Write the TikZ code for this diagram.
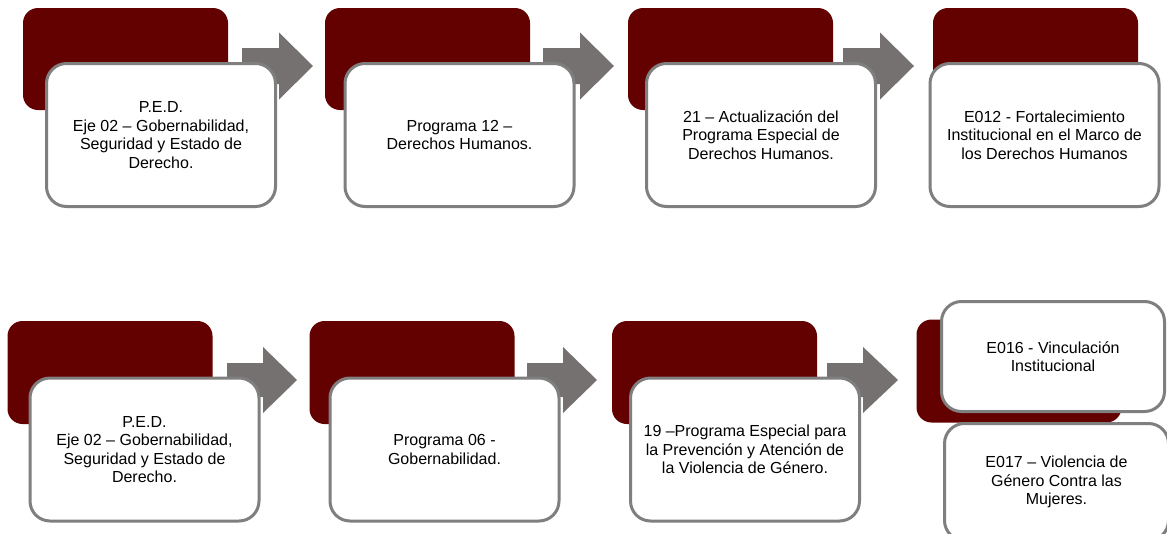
\documentclass[tikz,border=0pt]{standalone}
\usepackage{fontspec}
\setmainfont{Liberation Sans}
\definecolor{darkred}{RGB}{99,0,0}
\definecolor{arrowgray}{RGB}{118,113,113}
\definecolor{bordergray}{RGB}{127,127,127}
\tikzset{
  backbox/.style={fill=darkred, draw=none, rounded corners=15pt, minimum width=205pt, minimum height=102pt, inner sep=0pt},
  frontbox/.style={fill=white, draw=bordergray, line width=3pt, rounded corners=20pt, minimum width=229pt, minimum height=143pt, inner sep=0pt, align=center, font=\fontsize{16}{18.5}\selectfont},
  blockarrow/.style={fill=arrowgray, draw=none}
}
\begin{document}
\begin{tikzpicture}[x=1pt,y=-1pt]
\useasboundingbox (0,0) rectangle (1167,533);
\clip (0,0) rectangle (1167,533);
\fill[white] (0,0) rectangle (1167,533);
% ---------- Row 1 ----------
\node[backbox] (d1) at (125.5,59) {};
\node[backbox] (d2) at (427.5,59) {};
\node[backbox] (d3) at (730.5,59) {};
\node[backbox] (d4) at (1035.5,59) {};
\fill[blockarrow] (242,48) -- (279,48) -- (279,32.5) -- (313,66) -- (279,99.5) -- (279,84) -- (242,84) -- cycle;
\fill[blockarrow] (543,48) -- (580,48) -- (580,32.5) -- (614,66) -- (580,99.5) -- (580,84) -- (543,84) -- cycle;
\fill[blockarrow] (843,48) -- (880,48) -- (880,32.5) -- (914,66) -- (880,99.5) -- (880,84) -- (843,84) -- cycle;
\node[frontbox] (w1) at (161,135) {P.E.D.\\Eje 02 -- Gobernabilidad,\\Seguridad y Estado de\\Derecho.};
\node[frontbox] (w2) at (459.5,135) {Programa 12 --\\Derechos Humanos.};
\node[frontbox] (w3) at (761,135) {21 -- Actualización del\\Programa Especial de\\Derechos Humanos.};
\node[frontbox] (w4) at (1044.5,135) {E012 - Fortalecimiento\\Institucional en el Marco de\\los Derechos Humanos};
% ---------- Row 2 ----------
\node[backbox, minimum height=103pt] (e1) at (110,372.5) {};
\node[backbox, minimum height=103pt] (e2) at (412,372.5) {};
\node[backbox, minimum height=103pt] (e3) at (714.5,372.5) {};
\node[backbox, minimum height=103pt] (e4) at (1019,371) {};
\fill[blockarrow] (227,363) -- (263,363) -- (263,347) -- (297,380) -- (263,413) -- (263,397) -- (227,397) -- cycle;
\fill[blockarrow] (527,363) -- (563,363) -- (563,347) -- (597,380) -- (563,413) -- (563,397) -- (527,397) -- cycle;
\fill[blockarrow] (827,363) -- (863,363) -- (863,347) -- (898,380) -- (863,413) -- (863,397) -- (827,397) -- cycle;
\node[frontbox] (v1) at (144.5,449.5) {P.E.D.\\Eje 02 -- Gobernabilidad,\\Seguridad y Estado de\\Derecho.};
\node[frontbox] (v2) at (444.5,449.5) {Programa 06 -\\Gobernabilidad.};
\node[frontbox] (v3) at (745,449.5) {19 --Programa Especial para\\la Prevención y Atención de\\la Violencia de Género.};
\node[frontbox, minimum width=223pt, minimum height=110pt] (v4a) at (1053,356.5) {E016 - Vinculación\\Institucional};
\node[frontbox, minimum width=224pt, minimum height=117pt] (v4b) at (1056.5,482) {E017 -- Violencia de\\Género Contra las\\Mujeres.};
\end{tikzpicture}
\end{document}
